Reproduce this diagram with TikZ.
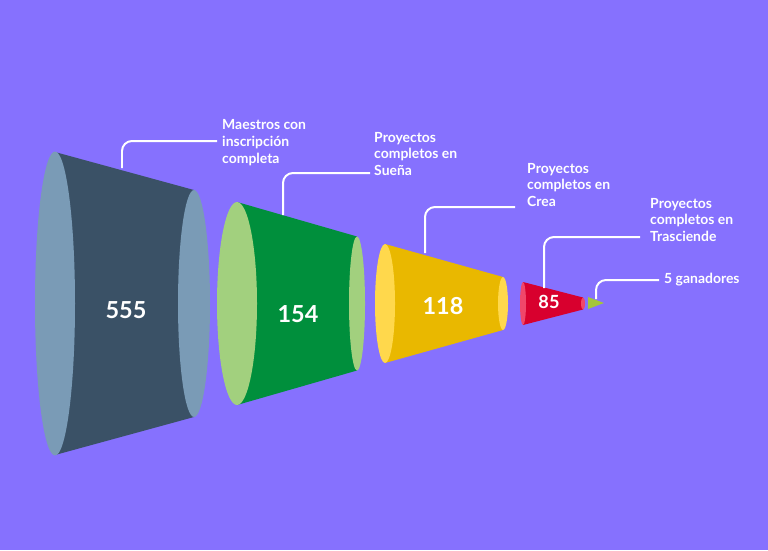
\documentclass[tikz,border=0pt]{standalone}
\usepackage{fontspec}
\setmainfont{Lato}
\usetikzlibrary{positioning, calc}

\definecolor{bgpurple}{HTML}{8671FE}
\definecolor{slatebody}{HTML}{3A5166}
\definecolor{slatecap}{HTML}{7A9BB6}
\definecolor{greenbody}{HTML}{008F3C}
\definecolor{greencap}{HTML}{A2D07E}
\definecolor{yellowbody}{HTML}{E9B800}
\definecolor{yellowcap}{HTML}{FFD84C}
\definecolor{redbody}{HTML}{D8002E}
\definecolor{redcap}{HTML}{F0476A}
\definecolor{limetip}{HTML}{A5C639}

\begin{document}
\begin{tikzpicture}[
  x=0.03cm, y=-0.03cm,
  lbl/.style={text=white, align=left, inner sep=0pt, anchor=west,
    font=\bfseries\fontsize{11.9}{14.5}\selectfont},
  num/.style={text=white, inner sep=0pt, font=\bfseries\fontsize{20}{24}\selectfont},
  leader/.style={draw=white, line width=1.7pt, rounded corners=0.3cm}
]

% background
\fill[bgpurple] (0,0) rectangle (768,550);
\useasboundingbox (0,0) rectangle (768,550);

%------------------------------------------------
% Funnel 1
%------------------------------------------------
\fill[slatebody] (55,152) -- (194,190) -- (194,417) -- (55,455) -- cycle;
\fill[slatecap] (194,303.5) ellipse [x radius=16, y radius=113.5];
\fill[slatecap] (55,303.5) ellipse [x radius=20, y radius=152];
\node[num] (n_one) at (126,310) {555};
\coordinate (t_one) at (122,168);

%------------------------------------------------
% Funnel 2
%------------------------------------------------
\fill[greenbody] (237,202) -- (357,236.5) -- (357,370.5) -- (237,405) -- cycle;
\fill[greencap] (357,303.5) ellipse [x radius=8, y radius=67];
\fill[greencap] (237,303.5) ellipse [x radius=20, y radius=101.5];
\node[num] (n_two) at (298,314) {154};
\coordinate (t_two) at (283,215);

%------------------------------------------------
% Funnel 3
%------------------------------------------------
\fill[yellowbody] (385,244) -- (503,277) -- (503,330) -- (385,363) -- cycle;
\fill[yellowcap] (503,303.5) ellipse [x radius=5, y radius=26.5];
\fill[yellowcap] (385,303.5) ellipse [x radius=10, y radius=59.5];
\node[num] (n_three) at (443,306) {118};
\coordinate (t_three) at (425,253);

%------------------------------------------------
% Funnel 4
%------------------------------------------------
\fill[redbody] (523,282) -- (583,297.5) -- (583,309.5) -- (523,325) -- cycle;
\fill[redcap] (583,303.5) ellipse [x radius=2, y radius=6];
\fill[redcap] (523,303.5) ellipse [x radius=3, y radius=21.5];
\node[num, font=\bfseries\fontsize{15.5}{18}\selectfont] (n_four) at (549,302) {85};
\coordinate (t_four) at (544,288);

%------------------------------------------------
% Funnel 5
%------------------------------------------------
\fill[limetip] (588,297) -- (604,303) -- (588,309) -- cycle;
\coordinate (t_five) at (596,299);

%------------------------------------------------
% Labels
%------------------------------------------------
\node[lbl] (lab_one) at (222,143) {Maestros con\\inscripción\\completa};
\node[lbl] (lab_two) at (374,154) {Proyectos\\completos en\\Sueña};
\node[lbl] (lab_three) at (527,185) {Proyectos\\completos en\\Crea};
\node[lbl] (lab_four) at (650,220) {Proyectos\\completos en\\Trasciende};
\node[lbl] (lab_five) at (664,280) {5 ganadores};

%------------------------------------------------
% Leader lines
%------------------------------------------------
\draw[leader] (t_one) |- ($(lab_one.west)+(-5,-2)$);
\draw[leader] (t_two) |- ($(lab_two.west)+(-4,19)$);
\draw[leader] (t_three) |- ($(lab_three.west)+(-12,22)$);
\draw[leader] (t_four) |- ($(lab_four.west)+(-10,17)$);
\draw[leader] (t_five) |- ($(lab_five.west)+(-5,0)$);

\end{tikzpicture}
\end{document}
